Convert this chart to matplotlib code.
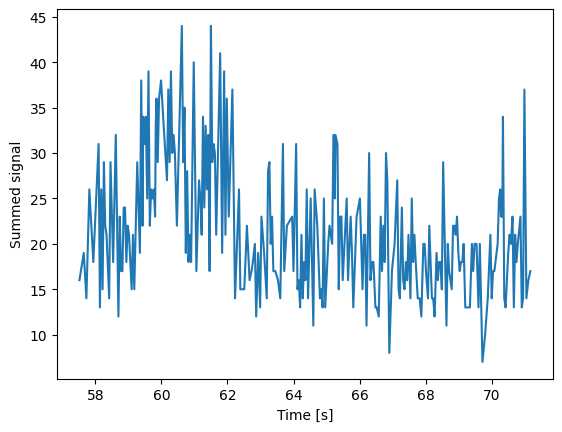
import matplotlib
matplotlib.use("Agg")
import matplotlib.pyplot as plt

time_s = [
    57.52, 57.65, 57.73, 57.82, 57.94, 58.10, 58.14, 58.18, 58.22, 58.26,
    58.30, 58.34, 58.42, 58.46, 58.54, 58.62, 58.70, 58.74, 58.78, 58.82,
    58.86, 58.90, 58.94, 58.98, 59.02, 59.10, 59.14, 59.18, 59.27, 59.35,
    59.39, 59.43, 59.45, 59.49,
    59.53, 59.57, 59.61, 59.65, 59.69, 59.73, 59.77, 59.81, 59.83, 59.85,
    59.89, 59.93, 59.99, 60.07, 60.17, 60.21, 60.25, 60.29, 60.33, 60.37,
    60.41, 60.47, 60.62, 60.66, 60.70, 60.74, 60.78, 60.82, 60.86, 60.90,
    60.98, 61.06, 61.14, 61.18, 61.22, 61.26, 61.30, 61.34, 61.38, 61.42,
    61.46, 61.50, 61.54, 61.58, 61.62,
    61.66, 61.78, 61.84, 61.90, 61.94, 61.98, 62.04, 62.15, 62.23, 62.35,
    62.39, 62.45, 62.51, 62.59, 62.67, 62.73, 62.77, 62.83, 62.87, 62.93,
    62.99, 63.03, 63.11, 63.19, 63.23, 63.27, 63.31, 63.35, 63.39, 63.45,
    63.53, 63.60, 63.68, 63.72,
    63.80, 63.96, 64.00, 64.08, 64.12, 64.16, 64.20, 64.24, 64.28, 64.32,
    64.36, 64.40, 64.44, 64.52, 64.60, 64.64, 64.72, 64.80, 64.84, 64.88,
    64.92, 64.96, 65.05, 65.09, 65.17, 65.21, 65.25, 65.27, 65.33, 65.37,
    65.41, 65.45, 65.49, 65.57, 65.61, 65.65, 65.73, 65.77, 65.81,
    65.91, 66.01, 66.09, 66.13, 66.17, 66.21, 66.29, 66.33, 66.38, 66.42,
    66.48, 66.52, 66.58, 66.64, 66.68, 66.72, 66.76, 66.80, 66.84, 66.90,
    66.98, 67.06, 67.14, 67.18, 67.22, 67.28, 67.32, 67.36, 67.40, 67.44,
    67.48, 67.54, 67.58, 67.62, 67.66, 67.70, 67.76, 67.82, 67.87, 67.93,
    67.97,
    68.01, 68.07, 68.11, 68.19, 68.23, 68.27, 68.33, 68.37, 68.41, 68.45,
    68.49, 68.53, 68.63, 68.67, 68.71, 68.79, 68.83, 68.87, 68.91, 68.95,
    68.99, 69.03, 69.07, 69.11, 69.15, 69.20, 69.28, 69.34, 69.40, 69.44,
    69.48, 69.54, 69.60, 69.64, 69.72, 69.80, 69.88, 69.96, 70.00, 70.04,
    70.08,
    70.18, 70.22, 70.26, 70.28, 70.32, 70.34, 70.38, 70.42, 70.50, 70.54,
    70.58, 70.63, 70.67, 70.71, 70.75, 70.79, 70.87, 70.91, 70.95, 70.99,
    71.05, 71.11, 71.17,
]

summed_signal = [
    16, 19, 14, 26, 18, 31, 13, 26, 15, 29,
    22, 21, 14, 29, 18, 32, 12, 23, 17, 17,
    24, 24, 18, 22, 21, 15, 21, 15, 29, 19,
    38, 22, 34, 31,
    34, 25, 39, 22, 26, 25, 26, 23, 33, 36,
    29, 36, 38, 33, 27, 37, 29, 39, 30, 32,
    30, 22, 44, 29, 35, 19, 28, 18, 21, 18,
    40, 17, 27, 25, 21, 34, 24, 33, 26, 32,
    17, 44, 29, 31, 30,
    21, 41, 19, 39, 21, 36, 23, 37, 14, 26,
    15, 15, 15, 22, 16, 17, 18, 20, 12, 19,
    13, 23, 19, 14, 28, 29, 20, 23, 17, 17,
    16, 14, 31, 17,
    22, 23, 17, 31, 15, 16, 13, 21, 14, 18,
    16, 26, 14, 25, 11, 26, 22, 14, 15, 13,
    25, 13, 20, 22, 20, 32, 25, 32, 31, 15,
    23, 23, 16, 22, 25, 16, 23, 19, 13,
    23, 25, 15, 21, 21, 11, 30, 16, 18, 18,
    13, 13, 12, 23, 17, 22, 18, 30, 27, 8,
    17, 20, 27, 15, 14, 24, 16, 15, 18, 16,
    21, 14, 25, 18, 21, 18, 14, 14, 12, 20,
    20,
    17, 14, 22, 14, 14, 12, 19, 16, 18, 18,
    15, 29, 11, 20, 17, 15, 22, 22, 21, 23,
    19, 17, 18, 18, 20, 13, 13, 13, 20, 17,
    20, 20, 13, 20, 7, 10, 14, 21, 14, 17,
    17,
    20, 25, 26, 23, 23, 34, 14, 13, 19, 21,
    20, 23, 13, 21, 18, 20, 23, 13, 14, 37,
    14, 16, 17,
]

fig, ax = plt.subplots(figsize=(6.4, 4.8), dpi=100)
ax.plot(time_s, summed_signal, color="#1f77b4", linewidth=1.5)
ax.set_xlabel("Time [s]")
ax.set_ylabel("Summed signal")
fig.savefig("out.png", dpi=100, bbox_inches="tight")
